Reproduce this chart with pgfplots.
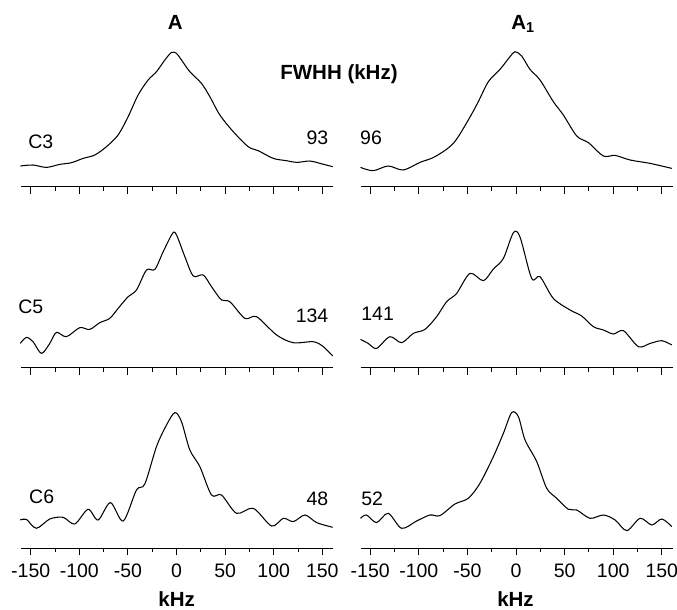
\documentclass[border=0pt]{standalone}
\usepackage{pgfplots}
\pgfplotsset{compat=1.18}
\usepackage{fontspec}
\setmainfont{Liberation Sans}
\newcommand{\lab}{\fontsize{19.5}{22}\selectfont}
\newcommand{\blab}{\fontsize{20.5}{23}\selectfont\bfseries}
\pgfplotsset{panel/.style={
  scale only axis, width=312pt, height=150pt,
  xmin=-160, xmax=161, ymin=0, ymax=150,
  axis x line*=bottom, hide y axis,
  xtick={-150,-100,...,150}, minor xtick={-125,-75,...,125},
  tick align=outside, major tick length=7pt, minor tick length=4pt,
  xticklabels={},
  axis line style={line width=1pt, black},
  every tick/.style={line width=1pt, black},
  clip=false, anchor=south west,
  /pgf/number format/assume math mode=true,
  xticklabel style={font=\lab, yshift=-5pt},
}}
\pgfplotsset{bottomrow/.style={xticklabels={-150,-100,-50,0,50,100,150}}}
\tikzset{spec/.style={smooth, line width=1.05pt, black, no markers}}
\begin{document}
\begin{tikzpicture}
\useasboundingbox (0pt,0pt) rectangle (677pt,-610pt);
% Row 1 left
\begin{axis}[panel, at={(21pt,-186.7pt)}]
\addplot[spec] coordinates {(-160.7,20.7) (-147.6,21.7) (-133.9,19.3) (-120.2,22.3) (-108.1,24) (-96.1,28.3) (-84.1,31.7) (-72.1,40) (-60.1,51.7) (-49.8,70) (-39.5,91.7) (-29.2,106.7) (-20.6,115) (-12.0,126.7) (-5.1,134.3) (0,133.3) (5.1,126.7) (13.7,115) (25.7,103.3) (34.3,90) (44.6,71.7) (58.4,55) (73.8,40) (84.1,36) (99.6,28.3) (113.3,26) (123.6,24.3) (137.3,25.7) (147.6,23.3) (160.7,20)};
\end{axis}
% Row 1 right
\begin{axis}[panel, at={(360.5pt,-186.7pt)}]
\addplot[spec] coordinates {(-160,19.3) (-147,16) (-131.5,20.7) (-116,16.7) (-98.9,24.3) (-83.4,30) (-64.5,43.3) (-49.1,66.7) (-38.8,85) (-28.5,105) (-16.5,117.3) (-6.2,130) (-1,135) (5.8,130.7) (14.4,117.3) (24.7,106.7) (38.4,85) (48.7,71.7) (62.5,50.7) (74.5,44) (89.9,30.7) (101.9,31.3) (117.4,26.7) (138,23.3) (160.3,18.3)};
\end{axis}
% Row 2 left
\begin{axis}[panel, at={(21pt,-367.7pt)}]
\addplot[spec] coordinates {(-160.7,24.3) (-154.5,30.3) (-147.6,26) (-139,14.3) (-130.4,24.3) (-123.6,35.3) (-113.3,31) (-99.6,40) (-89.3,38.3) (-79,45) (-68.7,49.3) (-60.1,59.3) (-49.8,71) (-41.2,77.7) (-30.9,97.7) (-22.3,98.3) (-13.7,116) (-4.1,134.3) (0,132.7) (8.6,111) (17.2,91.7) (27.5,92.7) (36.0,81) (46.3,67.7) (54.9,66) (70.4,49.3) (82.4,51) (103,32.7) (120.2,25) (140.8,26) (151.1,21) (160.7,11.7)};
\end{axis}
% Row 2 right
\begin{axis}[panel, at={(360.5pt,-367.7pt)}]
\addplot[spec] coordinates {(-160,28.3) (-152.1,24.3) (-143.5,19.3) (-129.8,31) (-117.7,25) (-105.7,34.3) (-93.7,38.3) (-81.7,51) (-71.4,66) (-61.1,74.3) (-47.4,94.3) (-33.6,87) (-23.3,98.7) (-13.0,109.3) (-2.7,135) (4.1,130.7) (16.1,89.3) (24.7,91) (38.4,69.3) (55.6,57.7) (67.6,51.7) (79.6,41) (89.9,37.7) (100.2,33.7) (110.5,37) (126,21) (138,24.3) (150,27) (160.3,22.7)};
\end{axis}
% Row 3 left
\begin{axis}[panel, bottomrow, at={(21pt,-548.3pt)}]
\addplot[spec] coordinates {(-160.7,28.3) (-154.5,29) (-144.2,20) (-130.4,29.3) (-116.7,31) (-104.7,24.3) (-91.0,39) (-80.7,28.3) (-68,45.7) (-54.9,27.3) (-41.2,58.3) (-32.6,64.3) (-20.6,101.7) (-10.3,123.3) (-1.7,135.7) (5.1,126.7) (13.7,98.3) (24.0,81.7) (36.0,53.3) (46.3,53.3) (61.8,35) (79,40) (97.8,22.3) (109.9,30) (120.2,26.7) (132.2,33.3) (144.2,25.7) (160.7,21)};
\end{axis}
% Row 3 right
\begin{axis}[panel, bottomrow, at={(360.5pt,-548.3pt)}]
\addplot[spec] coordinates {(-160,30) (-153.8,33.3) (-143.5,25.7) (-131.5,35) (-117.7,20) (-102.3,27.3) (-88.6,33.3) (-78.3,32.7) (-62.8,44.3) (-49.1,50) (-37.1,65) (-23.3,91.7) (-13,115) (-4.5,135.7) (2.4,131.7) (9.3,108.3) (21.3,86.7) (31.6,60) (41.9,50) (53.9,39) (62.5,38.3) (76.2,30) (89.9,33.3) (102,28.3) (114,17.7) (127.7,30) (139.7,23.3) (150,29.3) (160.3,21.7)};
\end{axis}
% Texts
\begin{scope}[every node/.style={inner sep=0pt, font=\lab}]
\node[font=\blab] at (175.3pt,-22.8pt) {A};
\node[font=\blab, anchor=west] at (511.2pt,-23.8pt) {A\textsubscript{1}};
\node[font=\blab] at (339pt,-74.3pt) {FWHH (kHz)};
\node at (40.8pt,-141.7pt) {C3};
\node[anchor=east] at (328.5pt,-137.7pt) {93};
\node[anchor=west] at (360pt,-137.7pt) {96};
\node at (30.8pt,-306.7pt) {C5};
\node[anchor=east] at (328.5pt,-316pt) {134};
\node[anchor=west] at (361.2pt,-314pt) {141};
\node at (41.7pt,-496.7pt) {C6};
\node[anchor=east] at (328.5pt,-498.3pt) {48};
\node[anchor=west] at (361.2pt,-498.3pt) {52};
\node[font=\blab] at (176.7pt,-598.8pt) {kHz};
\node[font=\blab] at (515.5pt,-598.8pt) {kHz};
\end{scope}
\end{tikzpicture}
\end{document}
